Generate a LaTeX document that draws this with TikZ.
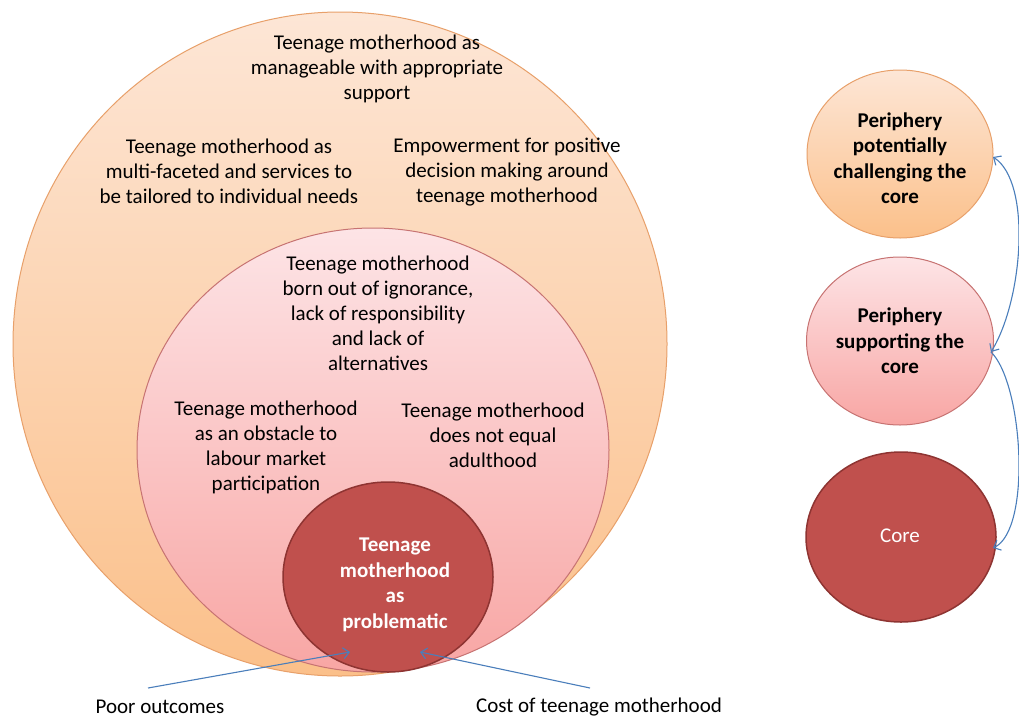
\documentclass[tikz,border=0pt]{standalone}
\usepackage{fontspec}
\setmainfont{Carlito}
\usetikzlibrary{shapes.geometric,arrows.meta}
\definecolor{orTop}{HTML}{FDE6D6}
\definecolor{orBot}{HTML}{FBC08A}
\definecolor{orLine}{HTML}{E8A06A}
\definecolor{pkTop}{HTML}{FDE4E6}
\definecolor{pkBot}{HTML}{F8A6A4}
\definecolor{pkLine}{HTML}{C77372}
\definecolor{coreFill}{HTML}{C0504D}
\definecolor{coreLine}{HTML}{8E3432}
\definecolor{arrBlue}{HTML}{4A7EBB}
\tikzset{
  blob/.style={ellipse,inner sep=0pt,line width=1pt},
  orangeblob/.style={blob,draw=orLine,top color=orTop,bottom color=orBot},
  pinkblob/.style={blob,draw=pkLine,top color=pkTop,bottom color=pkBot},
  redblob/.style={blob,draw=coreLine,fill=coreFill,line width=1.5pt},
  lbl/.style={align=center,font=\fontsize{21}{25}\selectfont,inner sep=0pt,text=black},
  blbl/.style={lbl,font=\fontsize{21}{25.5}\selectfont\bfseries},
  conn/.style={draw=arrBlue,line width=1.1pt,-{Straight Barb[length=6pt,width=11pt]}},
  dconn/.style={draw=arrBlue,line width=1.1pt,{Straight Barb[length=6pt,width=11pt]}-{Straight Barb[length=6pt,width=11pt]}}
}
\begin{document}
\begin{tikzpicture}[x=1pt,y=-1pt]
\useasboundingbox[fill=white] (0,0) rectangle (1019,718);
% main circles
\node[orangeblob,minimum width=654pt,minimum height=664pt] (outer) at (340,344) {};
\node[pinkblob,minimum width=472pt,minimum height=444pt] (mid) at (373,450) {};
\node[redblob,minimum width=210pt,minimum height=190pt] (core) at (388,577) {};
% texts
\node[lbl] (t1) at (377,69) {Teenage motherhood as\\manageable with appropriate\\support};
\node[lbl] (t2) at (229,171) {Teenage motherhood as\\multi-faceted and services to\\be tailored to individual needs};
\node[lbl] (t3) at (507,172) {Empowerment for positive\\decision making around\\teenage motherhood};
\node[lbl] (t4) at (378,313) {Teenage motherhood\\born out of ignorance,\\lack of responsibility\\and lack of\\alternatives};
\node[lbl] (t5) at (266,447) {Teenage motherhood\\as an obstacle to\\labour market\\participation};
\node[lbl] (t6) at (493,435) {Teenage motherhood\\does not equal\\adulthood};
\node[blbl,text=white] (t7) at (395,585) {Teenage\\motherhood\\as\\problematic};
\node[lbl] (po) at (160,707) {Poor outcomes};
\node[lbl] (ct) at (599,707) {Cost of teenage motherhood};
% bottom arrows
\coordinate (poS) at (148,688);
\coordinate (poE) at (350,652);
\coordinate (ctS) at (590,688);
\coordinate (ctE) at (420,652);
\draw[conn] (poS) -- (poE);
\draw[conn] (ctS) -- (ctE);
% right legend
\node[orangeblob,minimum width=186pt,minimum height=168pt] (pchal) at (900,154) {};
\node[pinkblob,minimum width=187pt,minimum height=168pt] (psup) at (900,341) {};
\node[redblob,minimum width=190pt,minimum height=170pt] (rcore) at (901,537) {};
\node[blbl] (pchalT) at (900,158) {Periphery\\potentially\\challenging the\\core};
\node[blbl] (psupT) at (900,341) {Periphery\\supporting the\\core};
\node[lbl,text=white] (rcoreT) at (900,536) {Core};
\coordinate (a1) at (993,157);
\coordinate (a2) at (991,352);
\coordinate (a3) at (993,548);
\draw[dconn] (a1) .. controls (1032,182) and (1023,300) .. (a2);
\draw[conn] (a2) .. controls (1023,383) and (1032,530) .. (a3);
\end{tikzpicture}
\end{document}
